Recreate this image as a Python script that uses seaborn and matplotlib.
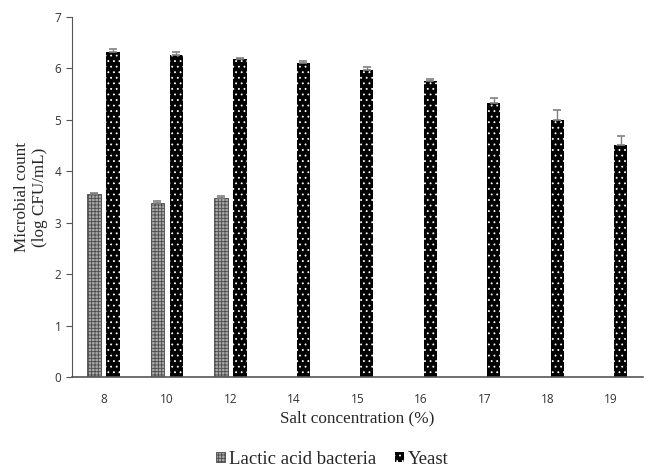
import pandas as pd
import numpy as np
import matplotlib.pyplot as plt
import seaborn as sns
from matplotlib.patches import Patch

# data
salt = ["8", "10", "12", "14", "15", "16", "17", "18", "19"]
lab_mean = [3.56, 3.38, 3.49]
lab_err = [0.02, 0.04, 0.03]
yeast_mean = [6.32, 6.26, 6.19, 6.10, 5.97, 5.75, 5.32, 5.00, 4.52]
yeast_err = [0.05, 0.05, 0.02, 0.04, 0.05, 0.04, 0.10, 0.20, 0.17]

groups = ["Lactic acid bacteria", "Yeast"]

df = pd.concat([
    pd.DataFrame({"salt": salt[:len(lab_mean)], "count": lab_mean, "err": lab_err, "group": groups[0]}),
    pd.DataFrame({"salt": salt, "count": yeast_mean, "err": yeast_err, "group": groups[1]}),
], ignore_index=True)

sns.set_style("white")
plt.rcParams["hatch.linewidth"] = 0.6
fig = plt.figure(figsize=(6.52, 4.68), dpi=100)
ax = fig.add_axes([0.110, 0.1944, 0.876, 0.7693])

sns.barplot(data=df, x="salt", y="count", hue="group", order=salt, hue_order=groups,
            width=0.6, gap=0.3, errorbar=None, ax=ax, legend=False)

lab_style = dict(facecolor="#a8a8a8", edgecolor="#4a4a4a", hatch="+++++", linewidth=0.6)
yeast_style = dict(facecolor="black", edgecolor="white", hatch="...", linewidth=0)

# style bars and add one-sided error bars
for cont, grp in zip(ax.containers, groups):
    sub = df[df["group"] == grp].set_index("salt").reindex(salt)
    style = lab_style if grp == groups[0] else yeast_style
    xs, ys, es = [], [], []
    for bar, (_, row) in zip(cont, sub.iterrows()):
        if np.isnan(row["count"]):
            continue
        bar.set(**style)
        xs.append(bar.get_x() + bar.get_width() / 2)
        ys.append(row["count"])
        es.append(row["err"])
    ax.errorbar(xs, ys, yerr=[np.zeros(len(es)), es], fmt="none", ecolor="#808080",
                elinewidth=1, capsize=2.8, capthick=1.2)

ax.set_ylim(0, 7)
ax.set_xlim(-0.5, len(salt) - 0.5)
ax.set_yticks(range(0, 8))

for s in ["top", "right"]:
    ax.spines[s].set_visible(False)
ax.spines["left"].set_color("#555555")
ax.spines["bottom"].set_color("#555555")
ax.spines["bottom"].set_linewidth(1.2)
ax.tick_params(axis="y", left=True, length=4, color="#555555", labelsize=8.5,
               labelcolor="#333333", direction="out")
ax.tick_params(axis="x", bottom=False, labelsize=8.5, labelcolor="#333333", pad=8)
for lbl in ax.get_xticklabels() + ax.get_yticklabels():
    lbl.set_fontfamily("Open Sans")

ax.set_xlabel("Salt concentration (%)", fontfamily="Liberation Serif", fontsize=12.3, labelpad=3)
ax.set_ylabel("Microbial count\n(log CFU/mL)", fontfamily="Liberation Serif", fontsize=12.3,
              labelpad=4.5, linespacing=1.15)

# legend below the plot
handles = [Patch(**lab_style), Patch(**yeast_style)]
fig.legend(handles, groups, loc="lower center", bbox_to_anchor=(0.51, -0.035), ncol=2,
           frameon=False, prop={"family": "Liberation Serif", "size": 13.5},
           handlelength=0.48, handleheight=0.48, handletextpad=0.2, columnspacing=1.0)

plt.savefig("out.png", dpi=100)
